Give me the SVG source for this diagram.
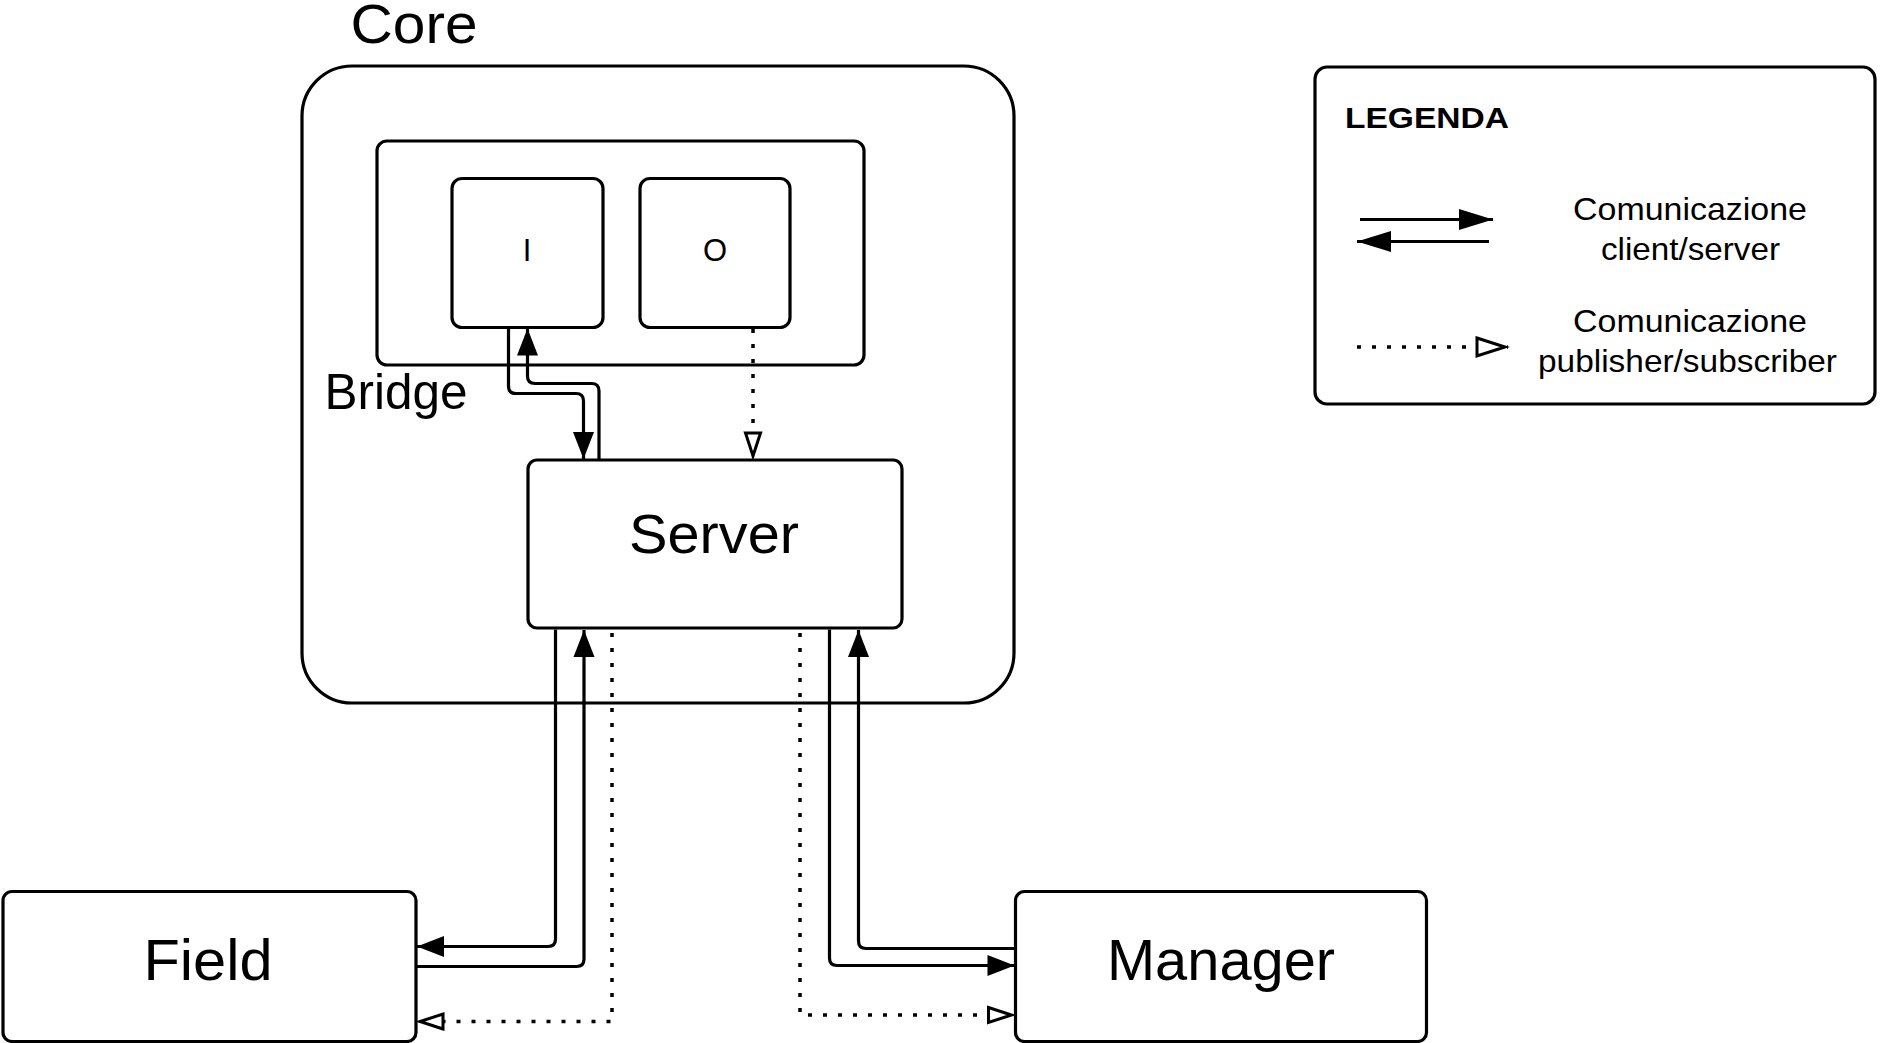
<svg xmlns="http://www.w3.org/2000/svg" width="1880" height="1043" viewBox="0 0 1880 1043">
<style>
  .box { fill: #fff; stroke: #000; stroke-width: 3.2; }
  .lbl { font-family: "Liberation Sans", Arial, sans-serif; fill: #000; text-anchor: middle; }
  .line { fill: none; stroke: #000; stroke-width: 3.2; }
  .dot { fill: none; stroke: #000; stroke-width: 3.5; stroke-dasharray: 4 11; }
</style>
<defs>
  <marker id="af" markerUnits="userSpaceOnUse" markerWidth="30" markerHeight="24" refX="27" refY="10.5" orient="auto" overflow="visible">
    <path d="M0,0 L27,10.5 L0,21 z" fill="#000"/>
  </marker>
  <marker id="ao" markerUnits="userSpaceOnUse" markerWidth="32" markerHeight="24" refX="28" refY="9" orient="auto" overflow="visible">
    <path d="M2,1.5 L25,9 L2,16.5 z" fill="#fff" stroke="#000" stroke-width="3"/>
  </marker>
  <marker id="afL" markerUnits="userSpaceOnUse" markerWidth="36" markerHeight="24" refX="34" refY="10.5" orient="auto" overflow="visible">
    <path d="M0,0 L34,10.5 L0,21 z" fill="#000"/>
  </marker>
  <marker id="aoL" markerUnits="userSpaceOnUse" markerWidth="36" markerHeight="26" refX="33" refY="10.5" orient="auto" overflow="visible">
    <path d="M2,1.5 L30,10.5 L2,19.5 z" fill="#fff" stroke="#000" stroke-width="3"/>
  </marker>
</defs>
<rect width="1880" height="1043" fill="#fff"/>

<g id="core">
  <rect class="box" x="302" y="66" width="712" height="637" rx="50" ry="50"/>
  <text class="lbl" x="414" y="43" font-size="55" textLength="127" lengthAdjust="spacingAndGlyphs">Core</text>
</g>

<g id="bridge">
  <rect class="box" x="377" y="141" width="487" height="224" rx="10" ry="10"/>
  <text class="lbl" x="396" y="409" font-size="50" textLength="143" lengthAdjust="spacingAndGlyphs">Bridge</text>
</g>

<g id="node-i">
  <rect class="box" x="452" y="178.5" width="151" height="149" rx="10" ry="10"/>
  <text class="lbl" x="527" y="261" font-size="31">I</text>
</g>

<g id="node-o">
  <rect class="box" x="640" y="178.5" width="150" height="149" rx="10" ry="10"/>
  <text class="lbl" x="715" y="261" font-size="31">O</text>
</g>

<g id="server">
  <rect class="box" x="528" y="460" width="374" height="168" rx="9" ry="9"/>
  <text class="lbl" x="714" y="553" font-size="56" textLength="170" lengthAdjust="spacingAndGlyphs">Server</text>
</g>

<g id="field">
  <rect class="box" x="3" y="891.5" width="413" height="150" rx="9" ry="9"/>
  <text class="lbl" x="208" y="980" font-size="58" textLength="129" lengthAdjust="spacingAndGlyphs">Field</text>
</g>

<g id="manager">
  <rect class="box" x="1015.5" y="891.5" width="411" height="150" rx="9" ry="9"/>
  <text class="lbl" x="1221" y="980" font-size="57" textLength="228" lengthAdjust="spacingAndGlyphs">Manager</text>
</g>

<g id="connectors">
  <path class="line" d="M508.5,327 V386 Q508.5,393.5 516,393.5 H576 Q583.5,393.5 583.5,401 V459" marker-end="url(#af)"/>
  <path class="line" d="M599,460 V391 Q599,383.5 591.5,383.5 H535 Q527.5,383.5 527.5,376 V328.5" marker-end="url(#af)"/>
  <path class="dot" d="M753,329 V459" marker-end="url(#ao)"/>

  <path class="line" d="M555.5,629.5 V939 Q555.5,946.5 548,946.5 H417" marker-end="url(#af)"/>
  <path class="line" d="M416,966.5 H576.5 Q584,966.5 584,959 V630" marker-end="url(#af)"/>
  <path class="dot" d="M612,633 V1021.5 H417" marker-end="url(#ao)"/>

  <path class="line" d="M829.5,629.5 V958 Q829.5,965.5 837,965.5 H1014.5" marker-end="url(#af)"/>
  <path class="line" d="M1015.5,948.5 H866 Q858.5,948.5 858.5,941 V630" marker-end="url(#af)"/>
  <path class="dot" d="M800,633 V1015 H1014.5" marker-end="url(#ao)"/>
</g>

<g id="legend">
  <rect class="box" x="1315" y="67" width="560" height="337" rx="12" ry="12"/>
  <text class="lbl" x="1427" y="128" font-size="30" font-weight="bold" textLength="164" lengthAdjust="spacingAndGlyphs">LEGENDA</text>
  <path class="line" d="M1360,219.5 H1493" marker-end="url(#afL)"/>
  <path class="line" d="M1489,241.5 H1357" marker-end="url(#afL)"/>
  <path class="dot" d="M1357,347 H1508" marker-end="url(#aoL)"/>
  <text class="lbl" x="1690" y="220" font-size="32" textLength="234" lengthAdjust="spacingAndGlyphs">Comunicazione</text>
  <text class="lbl" x="1690.5" y="260" font-size="32" textLength="179" lengthAdjust="spacingAndGlyphs">client/server</text>
  <text class="lbl" x="1690" y="332" font-size="32" textLength="234" lengthAdjust="spacingAndGlyphs">Comunicazione</text>
  <text class="lbl" x="1687.5" y="372" font-size="32" textLength="299" lengthAdjust="spacingAndGlyphs">publisher/subscriber</text>
</g>
</svg>
